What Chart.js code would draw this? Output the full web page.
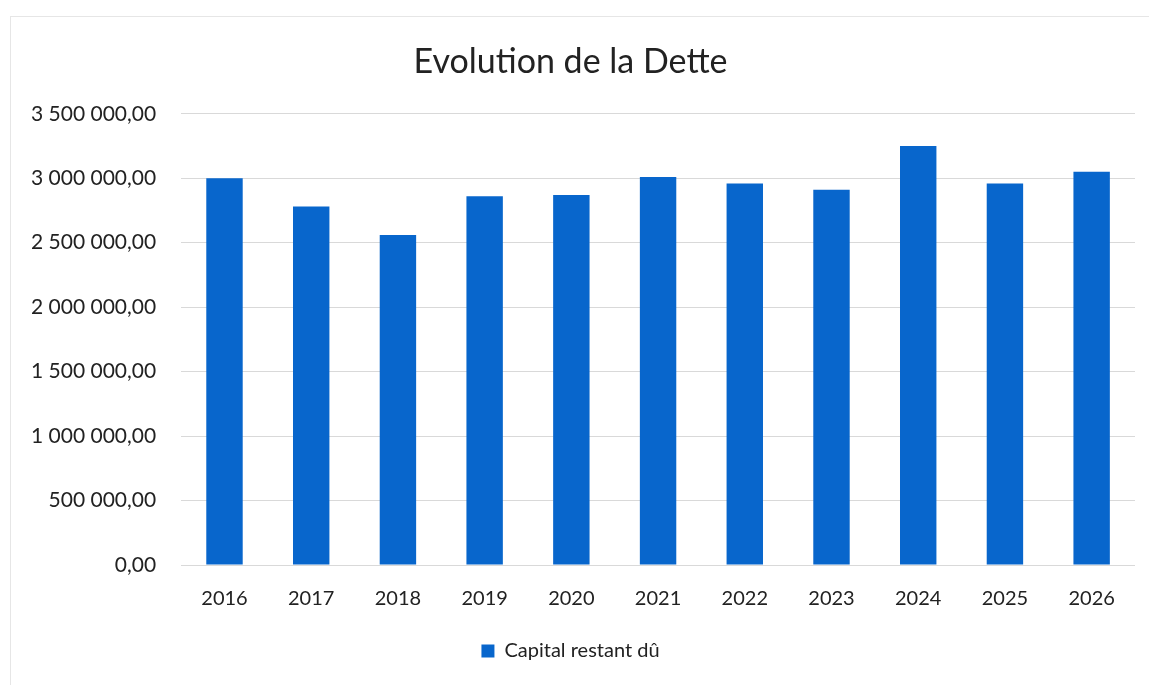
<!DOCTYPE html>
<html>
<head>
<meta charset="utf-8">
<script src="https://cdn.jsdelivr.net/npm/chart.js@4/dist/chart.umd.min.js"></script>
<style>
  html, body { margin: 0; padding: 0; background: #fff; }
  #wrap { width: 1149px; height: 685px; position: relative; }
  #wrap::before {
    content: ''; position: absolute; left: 10px; top: 16px; right: 0; bottom: 0;
    border-left: 1px solid #e6e6e6; border-top: 1px solid #e6e6e6; pointer-events: none;
  }
</style>
</head>
<body>
<div id="wrap"><canvas id="dette-chart" width="1149" height="685"></canvas></div>
<script>
const ctx = document.getElementById('dette-chart').getContext('2d');

const years = ['2016', '2017', '2018', '2019', '2020', '2021', '2022', '2023', '2024', '2025', '2026'];

// Capital restant dû
const capitalData = [3000000, 2780000, 2560000, 2860000, 2870000, 3010000, 2960000, 2910000, 3250000, 2960000, 3050000];

const yMax = 3500000;
const yStep = 500000;

function formatFr(value) {
    const parts = value.toFixed(2).split('.');
    const intPart = parts[0].replace(/\B(?=(\d{3})+(?!\d))/g, ' ');
    return intPart + ',' + parts[1];
}

const fontFamily = 'Lato, "Open Sans", sans-serif';

const chart = new Chart(ctx, {
    type: 'bar',
    data: {
        labels: years,
        datasets: [{
            label: 'Capital restant dû',
            data: capitalData,
            backgroundColor: '#0866cc',
            borderWidth: 0,
            barPercentage: 0.42,
            categoryPercentage: 1
        }]
    },
    options: {
        responsive: false,
        animation: false,
        layout: {
            padding: { left: 6, right: 14, top: 20, bottom: 14 }
        },
        plugins: {
            title: {
                display: true,
                text: 'Evolution de la Dette',
                color: '#222',
                font: { size: 34, family: fontFamily, weight: '400' },
                padding: { top: 22, bottom: 31 }
            },
            legend: {
                position: 'bottom',
                labels: {
                    color: '#222',
                    boxWidth: 13,
                    boxHeight: 13,
                    padding: 16,
                    font: { size: 20, family: fontFamily }
                }
            },
            tooltip: { enabled: false }
        },
        scales: {
            x: {
                grid: { display: false },
                border: { display: false },
                ticks: {
                    color: '#222',
                    padding: 14,
                    font: { size: 20, family: fontFamily }
                }
            },
            y: {
                min: 0,
                max: yMax,
                grid: { color: '#d9d9d9', drawTicks: false },
                border: { display: false },
                ticks: {
                    stepSize: yStep,
                    color: '#222',
                    padding: 25,
                    font: { size: 21, family: fontFamily },
                    callback: function(value) {
                        return formatFr(value);
                    }
                }
            }
        }
    }
});
</script>
</body>
</html>
